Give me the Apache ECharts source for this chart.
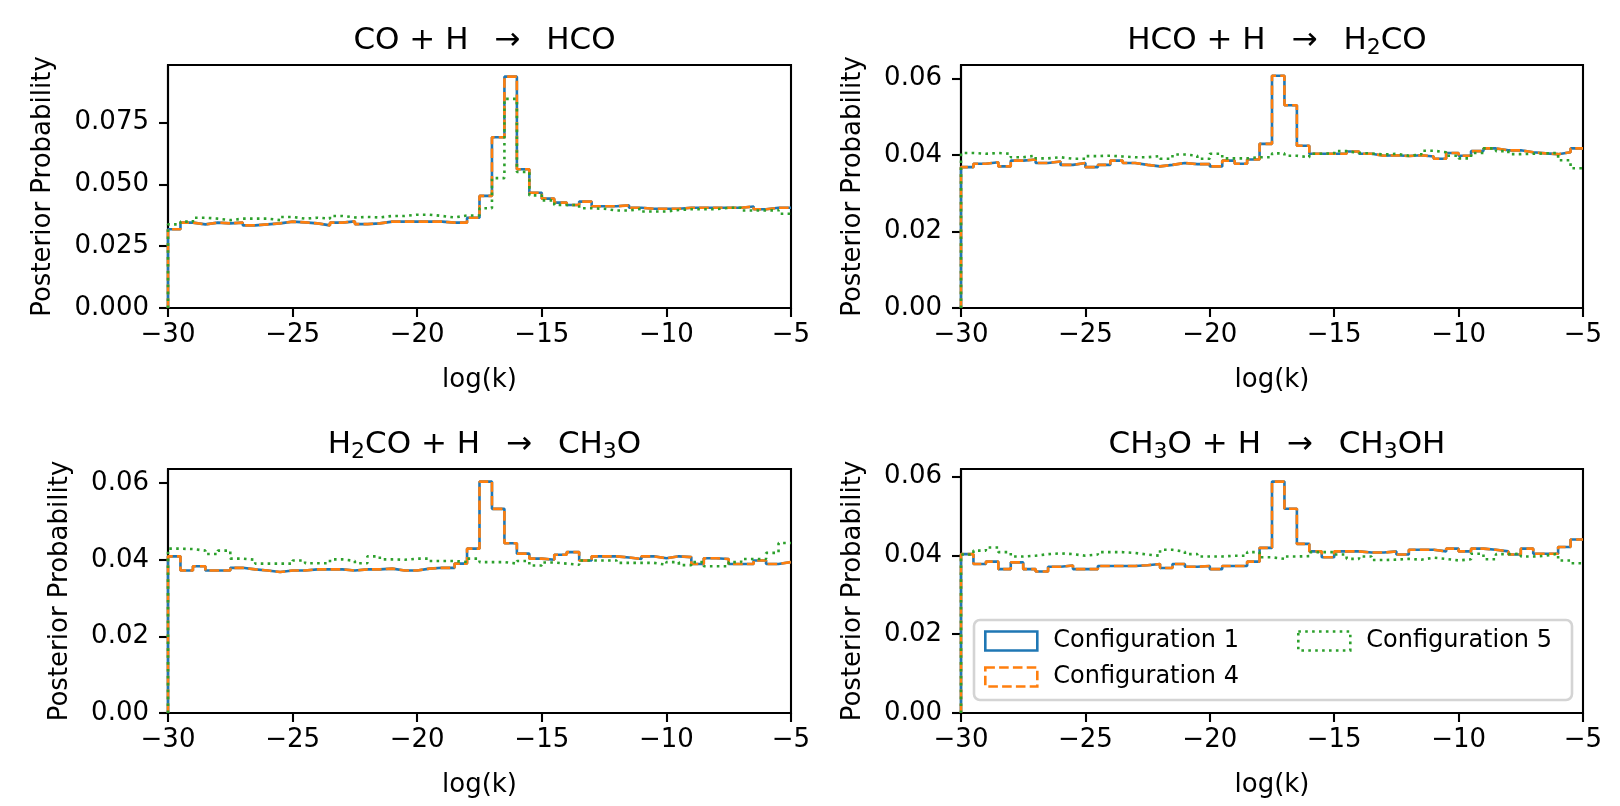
<!DOCTYPE html>
<html>
<head>
<meta charset="utf-8">
<script src="https://cdn.jsdelivr.net/npm/echarts@6/dist/echarts.min.js"></script>
<style>
html, body { margin: 0; padding: 0; background: #fff; }
#main { width: 1620px; height: 806px; }
</style>
</head>
<body>
<div id="main"></div>
<script>
// bin edges of the histograms, log(k)
var binEdges = [-30, -29.5, -29, -28.5, -28, -27.5, -27, -26.5, -26, -25.5,
    -25, -24.5, -24, -23.5, -23, -22.5, -22, -21.5, -21, -20.5,
    -20, -19.5, -19, -18.5, -18, -17.5, -17, -16.5, -16, -15.5,
    -15, -14.5, -14, -13.5, -13, -12.5, -12, -11.5, -11, -10.5,
    -10, -9.5, -9, -8.5, -8, -7.5, -7, -6.5, -6, -5.5, -5];

var xTicks = [-30, -25, -20, -15, -10, -5];
var yTicksA = [0, 0.025, 0.05, 0.075];
var yTicksB = [0, 0.02, 0.04, 0.06];
var yMax = [0.0982, 0.0635, 0.0637, 0.0619];

var seriesNames = ['Configuration 1', 'Configuration 4', 'Configuration 5'];
var ARR = '  \u2009\u2192  \u2009';
var titles = [
    'CO + H' + ARR + 'HCO',
    'HCO + H' + ARR + 'H{s|2}CO',
    'H{s|2}CO + H' + ARR + 'CH{s|3}O',
    'CH{s|3}O + H' + ARR + 'CH{s|3}OH'
];

// CO + H -> HCO
var coH_c1 = [0.0318, 0.0345, 0.0338, 0.0345, 0.0342, 0.0345, 0.0334, 0.0338, 0.0342, 0.0349,
    0.0346, 0.0342, 0.0334, 0.0345, 0.0350, 0.0339, 0.0342, 0.0349, 0.0349, 0.0349,
    0.0349, 0.0349, 0.0345, 0.0345, 0.0365, 0.0453, 0.0690, 0.0935, 0.0561, 0.0466,
    0.0442, 0.0426, 0.0416, 0.0430, 0.0411, 0.0411, 0.0415, 0.0405, 0.0401, 0.0401,
    0.0401, 0.0405, 0.0405, 0.0405, 0.0405, 0.0405, 0.0410, 0.0399, 0.0405, 0.0405];
var coH_c4 = coH_c1;
var coH_c5 = [0.0338, 0.0349, 0.0365, 0.0361, 0.0355, 0.0361, 0.0361, 0.0361, 0.0355, 0.0368,
    0.0361, 0.0365, 0.0361, 0.0372, 0.0366, 0.0368, 0.0366, 0.0372, 0.0372, 0.0377,
    0.0377, 0.0372, 0.0366, 0.0374, 0.0374, 0.0403, 0.0525, 0.0845, 0.0550, 0.0455,
    0.0435, 0.0416, 0.0416, 0.0403, 0.0401, 0.0394, 0.0394, 0.0401, 0.0390, 0.0390,
    0.0396, 0.0399, 0.0399, 0.0399, 0.0405, 0.0405, 0.0394, 0.0394, 0.0395, 0.0381];

// HCO + H -> H2CO
var hcoH_c1 = [0.0368, 0.0377, 0.0381, 0.0370, 0.0385, 0.0388, 0.0379, 0.0383, 0.0374, 0.0379,
    0.0368, 0.0374, 0.0385, 0.0379, 0.0374, 0.0370, 0.0374, 0.0379, 0.0376, 0.0376,
    0.0370, 0.0385, 0.0377, 0.0388, 0.0429, 0.0607, 0.0530, 0.0424, 0.0403, 0.0403,
    0.0403, 0.0409, 0.0403, 0.0398, 0.0399, 0.0397, 0.0399, 0.0396, 0.0390, 0.0405,
    0.0398, 0.0410, 0.0417, 0.0412, 0.0412, 0.0407, 0.0404, 0.0402, 0.0407, 0.0417];
var hcoH_c4 = hcoH_c1;
var hcoH_c5 = [0.0405, 0.0403, 0.0405, 0.0403, 0.0394, 0.0398, 0.0391, 0.0394, 0.0390, 0.0390,
    0.0397, 0.0398, 0.0396, 0.0394, 0.0394, 0.0397, 0.0390, 0.0401, 0.0398, 0.0390,
    0.0403, 0.0391, 0.0391, 0.0394, 0.0394, 0.0404, 0.0398, 0.0394, 0.0403, 0.0404,
    0.0410, 0.0405, 0.0404, 0.0401, 0.0403, 0.0398, 0.0401, 0.0411, 0.0407, 0.0398,
    0.0391, 0.0405, 0.0417, 0.0410, 0.0402, 0.0403, 0.0404, 0.0405, 0.0386, 0.0365];

// H2CO + H -> CH3O
var h2coH_c1 = [0.0409, 0.0372, 0.0383, 0.0372, 0.0372, 0.0379, 0.0375, 0.0372, 0.0368, 0.0372,
    0.0372, 0.0375, 0.0375, 0.0375, 0.0372, 0.0375, 0.0375, 0.0377, 0.0372, 0.0372,
    0.0377, 0.0379, 0.0379, 0.0390, 0.0429, 0.0604, 0.0533, 0.0443, 0.0416, 0.0403,
    0.0400, 0.0413, 0.0420, 0.0398, 0.0409, 0.0409, 0.0406, 0.0402, 0.0409, 0.0404,
    0.0409, 0.0407, 0.0389, 0.0404, 0.0402, 0.0389, 0.0389, 0.0398, 0.0389, 0.0394];
var h2coH_c4 = h2coH_c1;
var h2coH_c5 = [0.0429, 0.0428, 0.0424, 0.0415, 0.0424, 0.0403, 0.0400, 0.0390, 0.0390, 0.0390,
    0.0398, 0.0391, 0.0391, 0.0401, 0.0397, 0.0391, 0.0409, 0.0401, 0.0400, 0.0403,
    0.0403, 0.0397, 0.0397, 0.0394, 0.0403, 0.0394, 0.0394, 0.0390, 0.0397, 0.0385,
    0.0393, 0.0390, 0.0387, 0.0398, 0.0398, 0.0398, 0.0392, 0.0392, 0.0392, 0.0387,
    0.0394, 0.0386, 0.0394, 0.0383, 0.0383, 0.0394, 0.0402, 0.0402, 0.0418, 0.0444];

// CH3O + H -> CH3OH
var ch3oH_c1 = [0.0403, 0.0378, 0.0384, 0.0365, 0.0382, 0.0365, 0.0359, 0.0371, 0.0374, 0.0365,
    0.0365, 0.0373, 0.0373, 0.0373, 0.0375, 0.0378, 0.0368, 0.0378, 0.0371, 0.0373,
    0.0365, 0.0373, 0.0373, 0.0384, 0.0419, 0.0587, 0.0518, 0.0429, 0.0410, 0.0395,
    0.0410, 0.0410, 0.0407, 0.0407, 0.0410, 0.0402, 0.0414, 0.0414, 0.0410, 0.0417,
    0.0410, 0.0417, 0.0414, 0.0410, 0.0402, 0.0417, 0.0404, 0.0404, 0.0421, 0.0440];
var ch3oH_c4 = ch3oH_c1;
var ch3oH_c5 = [0.0402, 0.0412, 0.0420, 0.0408, 0.0397, 0.0399, 0.0403, 0.0405, 0.0403, 0.0399,
    0.0402, 0.0408, 0.0408, 0.0406, 0.0402, 0.0399, 0.0414, 0.0409, 0.0403, 0.0397,
    0.0397, 0.0399, 0.0399, 0.0408, 0.0395, 0.0391, 0.0397, 0.0398, 0.0408, 0.0408,
    0.0402, 0.0391, 0.0397, 0.0388, 0.0389, 0.0391, 0.0389, 0.0394, 0.0391, 0.0387,
    0.0390, 0.0404, 0.0390, 0.0403, 0.0404, 0.0397, 0.0399, 0.0404, 0.0387, 0.0380];

var panels = [
    [coH_c1, coH_c4, coH_c5],
    [hcoH_c1, hcoH_c4, hcoH_c5],
    [h2coH_c1, h2coH_c4, h2coH_c5],
    [ch3oH_c1, ch3oH_c4, ch3oH_c5]
];

var FONT = 'DejaVu Sans';
var colors = ['#1f77b4', '#ff7f0e', '#2ca02c'];
var dashes = ['solid', [9.6, 4.2], [2.6, 4.3]];

var grids = [
    { left: 168, top: 65, width: 623, height: 243 },
    { left: 961, top: 65, width: 622, height: 243 },
    { left: 168, top: 469, width: 623, height: 244 },
    { left: 961, top: 469, width: 622, height: 244 }
];
var yNameGap = [112, 95, 95, 95];

// histogram outline: starts at 0 on the left edge, then one step per bin
function stepPoints(vals) {
    var pts = [[binEdges[0], 0]];
    for (var i = 0; i < vals.length; i++) {
        pts.push([binEdges[i], vals[i]]);
    }
    pts.push([binEdges[binEdges.length - 1], vals[vals.length - 1]]);
    return pts;
}

var chart = echarts.init(document.getElementById('main'));

var option = {
    animation: false,
    backgroundColor: '#fff',
    title: [],
    grid: [],
    xAxis: [],
    yAxis: [],
    series: [],
    legend: [],
    graphic: []
};

for (var p = 0; p < 4; p++) {
    var g = grids[p];
    option.grid.push({
        left: g.left, top: g.top, width: g.width, height: g.height,
        show: true, borderColor: '#000', borderWidth: 2.1, backgroundColor: 'transparent'
    });
    option.title.push({
        text: titles[p],
        left: g.left + g.width / 2,
        top: g.top - 47,
        textAlign: 'center',
        textStyle: {
            fontFamily: FONT, fontSize: 31, fontWeight: 'normal', color: '#000', lineHeight: 36,
            rich: {
                s: { fontFamily: FONT, fontSize: 22, color: '#000', lineHeight: 18, verticalAlign: 'bottom' }
            }
        }
    });
    option.xAxis.push({
        type: 'value', gridIndex: p, min: -30, max: -5, interval: 5,
        name: 'log(k)', nameLocation: 'middle', nameGap: 59,
        nameTextStyle: { fontFamily: FONT, fontSize: 26, color: '#000' },
        axisLine: { show: true, onZero: false, lineStyle: { color: '#000', width: 2.1 } },
        axisTick: { show: true, length: 9, lineStyle: { color: '#000', width: 2.1 }, customValues: xTicks },
        axisLabel: {
            fontFamily: FONT, fontSize: 26, color: '#000', margin: 14, customValues: xTicks,
            formatter: function (v) { return String(v).replace('-', '\u2212'); }
        },
        splitLine: { show: false }
    });
    var ticks = p === 0 ? yTicksA : yTicksB;
    var dec = p === 0 ? 3 : 2;
    option.yAxis.push({
        type: 'value', gridIndex: p, min: 0, max: yMax[p],
        name: 'Posterior Probability', nameLocation: 'middle', nameRotate: 90, nameGap: yNameGap[p],
        nameTextStyle: { fontFamily: FONT, fontSize: 26, color: '#000' },
        axisLine: { show: true, onZero: false, lineStyle: { color: '#000', width: 2.1 } },
        axisTick: { show: true, length: 9, lineStyle: { color: '#000', width: 2.1 }, customValues: ticks },
        axisLabel: {
            fontFamily: FONT, fontSize: 26, color: '#000', margin: 19, customValues: ticks,
            formatter: (function (d) { return function (v) { return v.toFixed(d); }; })(dec)
        },
        splitLine: { show: false }
    });
    for (var s = 0; s < 3; s++) {
        option.series.push({
            name: seriesNames[s],
            type: 'line',
            xAxisIndex: p,
            yAxisIndex: p,
            step: 'end',
            showSymbol: false,
            symbol: 'none',
            silent: true,
            data: stepPoints(panels[p][s]),
            itemStyle: { color: colors[s] },
            lineStyle: { color: colors[s], width: 2.6, type: dashes[s] },
            z: 2 + s
        });
    }
}

function legendItem(idx) {
    return {
        name: seriesNames[idx],
        icon: 'rect',
        itemStyle: {
            color: 'rgba(0,0,0,0)', borderColor: colors[idx], borderWidth: 2.6, borderType: dashes[idx]
        }
    };
}

var legendText = { fontFamily: FONT, fontSize: 24, color: '#000', padding: [0, 0, 0, 11] };
option.legend.push({
    data: [legendItem(0), legendItem(1)],
    orient: 'vertical', left: 979, top: 624,
    itemWidth: 52, itemHeight: 19, itemGap: 12,
    selectedMode: false, textStyle: legendText, z: 20
});
option.legend.push({
    data: [legendItem(2)],
    orient: 'vertical', left: 1292, top: 624,
    itemWidth: 52, itemHeight: 19, itemGap: 12,
    selectedMode: false, textStyle: legendText, z: 20
});

option.graphic.push({
    type: 'rect',
    z: 15,
    shape: { x: 974, y: 620, width: 598, height: 80, r: 6 },
    style: { fill: 'rgba(255,255,255,0.8)', stroke: '#d4d4d4', lineWidth: 2.6 }
});

chart.setOption(option);
</script>
</body>
</html>
